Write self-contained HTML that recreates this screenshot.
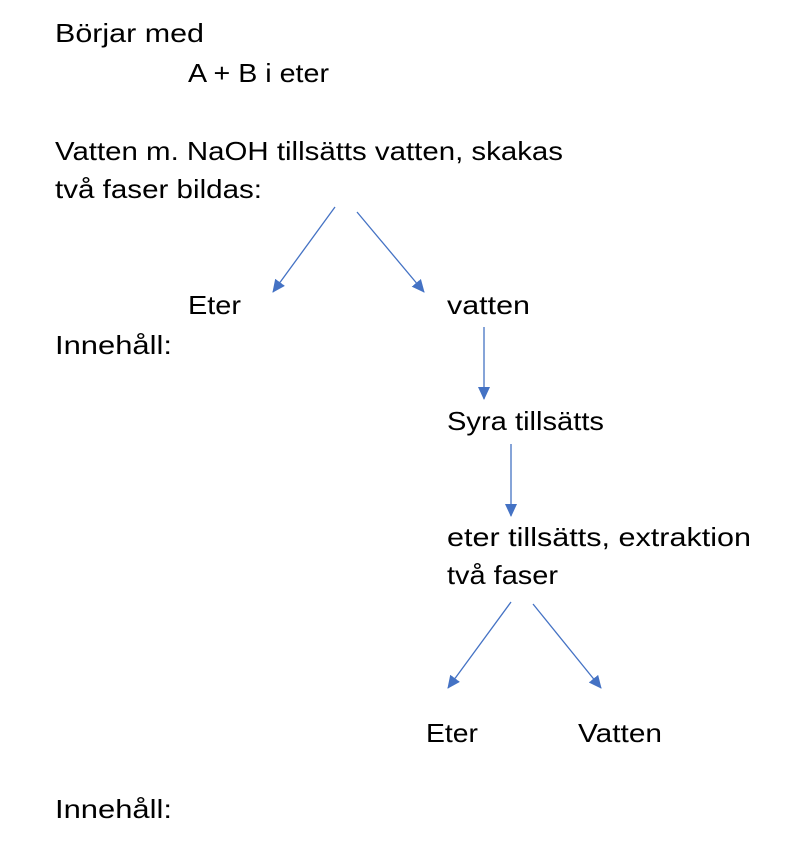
<!DOCTYPE html>
<html><head><meta charset="utf-8"><style>
html,body{margin:0;padding:0;background:#fff;width:800px;height:859px;overflow:hidden}
text{font-family:"Liberation Sans",sans-serif;font-size:26px;fill:#000}
</style></head><body>
<svg width="800" height="859" viewBox="0 0 800 859" xmlns="http://www.w3.org/2000/svg">
<defs><marker id="a" markerWidth="14" markerHeight="14" refX="12" refY="6" orient="auto" markerUnits="userSpaceOnUse"><path d="M0,0 L13,6 L0,12 z" fill="#4472C4"/></marker></defs>
<g stroke="#4472C4" stroke-width="1.3" marker-end="url(#a)">
<line x1="335" y1="207" x2="273" y2="292"/>
<line x1="357" y1="212" x2="424" y2="292"/>
<line x1="484" y1="327" x2="484" y2="399"/>
<line x1="511" y1="444" x2="511" y2="516"/>
<line x1="511" y1="602" x2="448" y2="688"/>
<line x1="533" y1="604" x2="601" y2="688"/>
</g>
<text x="55" y="42" textLength="149" lengthAdjust="spacingAndGlyphs">Börjar med</text>
<text x="188" y="82" textLength="141" lengthAdjust="spacingAndGlyphs">A + B i eter</text>
<text x="55" y="160" textLength="508" lengthAdjust="spacingAndGlyphs">Vatten m. NaOH tillsätts vatten, skakas</text>
<text x="55" y="198" textLength="207" lengthAdjust="spacingAndGlyphs">två faser bildas:</text>
<text x="188" y="314" textLength="53" lengthAdjust="spacingAndGlyphs">Eter</text>
<text x="447" y="314" textLength="83" lengthAdjust="spacingAndGlyphs">vatten</text>
<text x="55" y="354" textLength="117" lengthAdjust="spacingAndGlyphs">Innehåll:</text>
<text x="447" y="430" textLength="157" lengthAdjust="spacingAndGlyphs">Syra tillsätts</text>
<text x="447" y="546" textLength="304" lengthAdjust="spacingAndGlyphs">eter tillsätts, extraktion</text>
<text x="447" y="584" textLength="111" lengthAdjust="spacingAndGlyphs">två faser</text>
<text x="426" y="742" textLength="52" lengthAdjust="spacingAndGlyphs">Eter</text>
<text x="578" y="742" textLength="84" lengthAdjust="spacingAndGlyphs">Vatten</text>
<text x="55" y="818" textLength="117" lengthAdjust="spacingAndGlyphs">Innehåll:</text>
</svg>
</body></html>
